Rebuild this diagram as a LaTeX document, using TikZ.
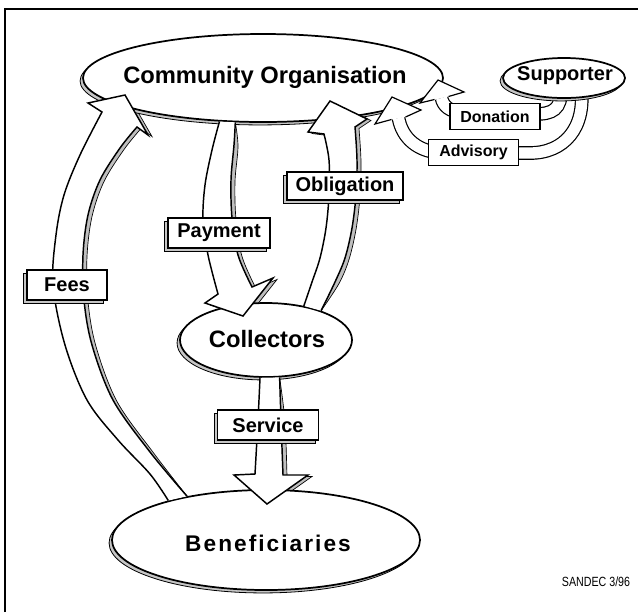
\documentclass[tikz,border=0pt]{standalone}
\usepackage{fontspec}
\usepackage{graphicx}
\setmainfont{Liberation Sans}
\usetikzlibrary{shapes.geometric,shadows}
\pgfdeclarelayer{bg}
\pgfsetlayers{bg,main}
\newcommand\blockarrow[1]{%
  \begin{pgfonlayer}{bg}\path[ashadow, shift={(4,1.5)}] #1;\end{pgfonlayer}%
  \path[fill=white] #1;%
  \path[aline] #1;%
}
\begin{document}
\begin{tikzpicture}[x=0.75pt,y=-0.75pt,
  ell/.style={ellipse, draw, line width=1.3pt, fill=white, inner sep=0pt,
     drop shadow={shadow xshift=-2.2pt, shadow yshift=-2.2pt, fill=gray!45, draw=black, line width=0.6pt, opacity=1}},
  etext/.style={font=\bfseries\fontsize{17.8}{20}\selectfont, inner sep=0pt},
  lbl/.style={draw, line width=1pt, fill=white, font=\bfseries\fontsize{15}{17}\selectfont, inner sep=0pt, minimum height=22.5pt,
     drop shadow={shadow xshift=-2.5pt, shadow yshift=-2.5pt, fill=gray!45, draw=black, line width=0.5pt, opacity=1}},
  slbl/.style={draw, line width=0.8pt, fill=white, font=\bfseries\fontsize{12}{14}\selectfont, inner sep=0pt, minimum height=19pt},
  ashadow/.style={fill=gray!50, draw=black, line width=0.5pt},
  aline/.style={draw=black, line width=1.1pt, line join=miter},
  band/.style={line width=0.9pt, double=white, double distance=8.5pt},
  headst/.style={fill=white, draw=black, line width=0.9pt},
]
\useasboundingbox (0,0) rectangle (638,612);
\draw[line width=0.8pt] (5,612) -- (5,9) -- (638,9);

% ellipses
\node[ell, minimum width=270pt, minimum height=66pt] (co) at (263,78) {};
\node[ell, minimum width=129pt, minimum height=55.5pt] (col) at (266,340) {};
\node[ell, minimum width=231pt, minimum height=75pt] (ben) at (266,540) {};

% big block arrows
\blockarrow{plot[smooth,tension=0.55] coordinates {(ben.158) (150,474) (118,440) (87,400) (65,345) (53,285) (56,235) (64,195) (80,155) (102,112)} -- (88,103) -- (125,95) -- (148,135) -- plot[smooth,tension=0.55] coordinates {(137,127) (120,148) (100,180) (88,215) (83,255) (84,300) (92,345) (113,400) (150,452) (ben.151)}}
\blockarrow{plot[smooth,tension=0.55] coordinates {(co.225) (212,150) (205,185) (203,220) (208,255) (218,294)} -- (205,303) -- (243,316) -- (273,278) -- plot[smooth,tension=0.55] coordinates {(252,287) (238,255) (232,218) (231,180) (234,145) (co.238)}}
\blockarrow{plot[smooth,tension=0.55] coordinates {(col.42) (312,282) (320,258) (326,228) (329,195) (329,160) (324,134)} -- (308,132) -- (330,101) -- (367,119) -- plot[smooth,tension=0.55] coordinates {(355,127) (357,160) (356,195) (352,228) (345,258) (335,282) (col.28)}}
\blockarrow{plot[smooth,tension=0.5] coordinates {(col.261) (258,420) (255,474)} -- (234,475) -- (267,504) -- (308,475) -- plot[smooth,tension=0.5] coordinates {(283,475) (281,420) (col.290)}}

% supporter bands
\coordinate (dtail) at (561,88);
\coordinate (atail) at (581,88);
\coordinate (dhead) at (441.5,98);
\coordinate (ahead) at (398.5,118);
\draw[band] (dtail) .. controls (562,110) and (552,114) .. (535,114) -- (462,112) .. controls (450,112) and (443,106) .. (dhead);
\draw[band] (atail) .. controls (586,128) and (564,153) .. (530,153) -- (445,153) .. controls (418,153) and (402,138) .. (ahead);

\node[ell, minimum width=91.5pt, minimum height=30pt] (sup) at (564,78) {};
\path[headst] (434.5,99.5) -- (420,103) -- (438,80) -- (464,92) -- (448.5,96.5);
\path[headst] (391.5,119.5) -- (375,124) -- (392,97) -- (421,110) -- (405.5,117);

% texts in ellipses
\node[etext] (cotext) at (265,77) {Community Organisation};
\node[font=\bfseries\fontsize{15}{17}\selectfont, inner sep=0pt] (suptext) at (565,76) {Supporter};
\node[etext] (coltext) at (267,339) {Collectors};
\node[font=\bfseries\fontsize{17}{19}\selectfont\addfontfeatures{LetterSpace=9}, inner sep=0pt] (bentext) at (268,543) {Beneficiaries};

% labels
\node[lbl, minimum width=60pt] (fees) at (67,285) {Fees};
\node[lbl, minimum width=76.5pt] (pay) at (219,233) {Payment};
\node[lbl, minimum width=87pt, minimum height=21pt] (obl) at (345,186) {Obligation};
\node[lbl, minimum width=76pt] (serv) at (268,425) {Service};
\node[slbl, minimum width=67.5pt] (don) at (495,116.5) {Donation};
\node[slbl, minimum width=68pt] (adv) at (473.5,152.5) {Advisory};

\node[font=\fontsize{10}{11}\selectfont, inner sep=0pt] (sandec) at (596,582) {\scalebox{0.8}[1]{SANDEC 3/96}};
\end{tikzpicture}
\end{document}
